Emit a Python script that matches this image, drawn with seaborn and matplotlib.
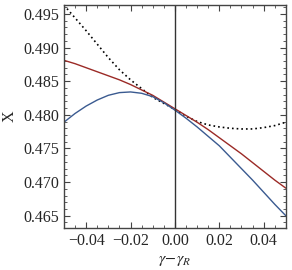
import numpy as np
import pandas as pd
import matplotlib
matplotlib.use('Agg')
import matplotlib.pyplot as plt
from matplotlib.ticker import MultipleLocator
import seaborn as sns

# values, step 0.005 in gamma - gamma_R
dgamma = [-0.05, -0.045, -0.04, -0.035, -0.03, -0.025, -0.02, -0.015, -0.01, -0.005, 0.0,
          0.005, 0.01, 0.015, 0.02, 0.025, 0.03, 0.035, 0.04, 0.045, 0.05]
x_dotted = [0.4963, 0.4944, 0.4925, 0.4905, 0.4885, 0.4867, 0.4852, 0.4839, 0.4826, 0.4817, 0.4808,
            0.4798, 0.4790, 0.4785, 0.4782, 0.4780, 0.4779, 0.4779, 0.4781, 0.4784, 0.4789]
x_red = [0.4881, 0.4876, 0.4870, 0.4864, 0.4858, 0.4852, 0.4845, 0.4837, 0.4829, 0.4819, 0.4809,
         0.4799, 0.4789, 0.4778, 0.4766, 0.4754, 0.4742, 0.4729, 0.4716, 0.4703, 0.4691]
x_blue = [0.4789, 0.4802, 0.4813, 0.4822, 0.4829, 0.4833, 0.4834, 0.4832, 0.4827, 0.4818, 0.4807,
          0.4795, 0.4782, 0.4768, 0.4754, 0.4737, 0.4720, 0.4703, 0.4685, 0.4667, 0.4650]

df = pd.DataFrame({'dg': dgamma, 'dotted': x_dotted, 'red': x_red, 'blue': x_blue})

sns.set_style('ticks')
plt.rcParams['font.family'] = ['Liberation Serif', 'DejaVu Serif']
plt.rcParams['mathtext.fontset'] = 'stix'

fig = plt.figure(figsize=(2.92, 2.70), dpi=100)
ax = fig.add_axes([0.219, 0.156, 0.760, 0.825])

sns.lineplot(data=df, x='dg', y='dotted', ax=ax, color='black', linestyle=(0, (1, 1.8)), linewidth=1.2)
sns.lineplot(data=df, x='dg', y='red', ax=ax, color='#9b2a26', linewidth=1.0)
sns.lineplot(data=df, x='dg', y='blue', ax=ax, color='#3a5a90', linewidth=1.0)
ax.axvline(0.0, color='#333333', linewidth=1.0)

ax.set_xlim(-0.05, 0.05)
ax.set_ylim(0.4632, 0.4963)
ax.xaxis.set_major_locator(MultipleLocator(0.02))
ax.xaxis.set_minor_locator(MultipleLocator(0.005))
ax.yaxis.set_major_locator(MultipleLocator(0.005))
ax.yaxis.set_minor_locator(MultipleLocator(0.001))
ax.xaxis.set_major_formatter(matplotlib.ticker.FuncFormatter(lambda v, p: f'{v:.2f}'.replace('-', '\u2212')))
ax.yaxis.set_major_formatter(matplotlib.ticker.FuncFormatter(lambda v, p: f'{v:.3f}'))

ax.tick_params(which='both', direction='in', top=True, right=True, color='#444444', labelsize=11.5)
ax.tick_params(which='major', length=4, width=0.8)
ax.tick_params(which='minor', length=2, width=0.6)
for s in ax.spines.values():
    s.set_color('#444444')
    s.set_linewidth(1.0)

ax.set_xlabel(r'$\gamma\!-\!\gamma_R$', fontsize=11.5, labelpad=2)
ax.set_ylabel('X', fontsize=11.5, labelpad=4)

fig.savefig('out.png', dpi=100)
